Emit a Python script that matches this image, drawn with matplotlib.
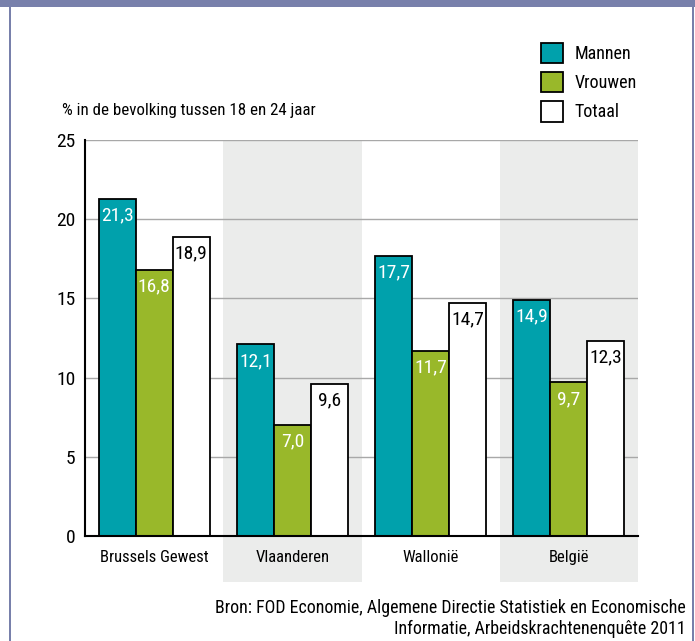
import matplotlib
matplotlib.use("Agg")
import matplotlib.pyplot as plt
from matplotlib import font_manager as fm
from matplotlib.patches import Rectangle, Patch
import numpy as np

# ---------------- data ----------------
regions = ["Brussels Gewest", "Vlaanderen", "Wallonië", "België"]
series_names = ["Mannen", "Vrouwen", "Totaal"]
mannen = [21.3, 12.1, 17.7, 14.9]
vrouwen = [16.8, 7.0, 11.7, 9.7]
totaal = [18.9, 9.6, 14.7, 12.3]
yticks = [0, 5, 10, 15, 20, 25]
ylabel = "% in de bevolking tussen 18 en 24 jaar"
source = "Bron: FOD Economie, Algemene Directie Statistiek en Economische\nInformatie, Arbeidskrachtenenquête 2011"

# ---------------- font choice ----------------
fonts = fm.fontManager.ttflist
cands = ["Roboto Condensed", "Open Sans Condensed", "Liberation Sans Narrow"]
names = {f.name for f in fonts}
chosen = None
for c in cands:
    if c in names:
        chosen = dict(family=c)
        break
if chosen is None:
    for f in fonts:
        if f.stretch in ("condensed", "semi-condensed") and f.name in ("DejaVu Sans", "Roboto", "Open Sans", "Noto Sans"):
            chosen = dict(family=f.name, stretch="condensed")
            break
if chosen is None:
    chosen = dict(family="DejaVu Sans")
plt.rcParams["font.family"] = chosen["family"]
if "stretch" in chosen:
    plt.rcParams["font.stretch"] = chosen["stretch"]

# ---------------- colours ----------------
c_teal = "#00A1AC"
c_green = "#99B82A"
c_white = "#FFFFFF"
c_band = "#EBECEB"
c_frame = "#7880AB"
c_grid = "#A8A8A8"

W, H = 695, 641
fig = plt.figure(figsize=(W / 100, H / 100), dpi=100)
ax = fig.add_axes([85 / W, 1 - 536 / H, (638 - 85) / W, (536 - 140) / H])

n = len(regions)
x = np.arange(n) + 0.5
bw = 0.268
offs = [-bw, 0, bw]
cols = [c_teal, c_green, c_white]
txtcols = ["white", "white", "black"]
data = [mannen, vrouwen, totaal]

ax.set_xlim(0, n)
ax.set_ylim(0, 25)

# alternating background bands (extend below axis)
for i in range(n):
    if i % 2 == 1:
        ax.add_patch(Rectangle((i, -2.9), 1, 27.9, facecolor=c_band,
                               edgecolor="none", zorder=0, clip_on=False))

for yv in yticks[1:]:
    ax.axhline(yv, color=c_grid, lw=1.0, zorder=1)

for k in range(3):
    bars = ax.bar(x + offs[k], data[k], width=bw, color=cols[k],
                  edgecolor="black", linewidth=1.3, zorder=3, label=series_names[k])
    for b, v in zip(bars, data[k]):
        ax.annotate(f"{v:.1f}".replace(".", ","),
                    (b.get_x() + b.get_width() / 2, v),
                    xytext=(0, -5.5), textcoords="offset points",
                    ha="center", va="top", color=txtcols[k], fontsize=14, zorder=4)

for s in ["top", "right"]:
    ax.spines[s].set_visible(False)
ax.spines["left"].set_linewidth(1.5)
ax.spines["bottom"].set_linewidth(1.5)
ax.spines["left"].set_zorder(5)
ax.spines["bottom"].set_zorder(5)
ax.set_facecolor("none")

ax.set_yticks(yticks)
ax.set_yticklabels([str(t) for t in yticks], fontsize=14)
ax.set_xticks(x)
ax.set_xticklabels(regions, fontsize=12)
ax.tick_params(axis="both", length=0)
ax.tick_params(axis="y", pad=7)
ax.tick_params(axis="x", pad=10)

handles = [Patch(facecolor=c, edgecolor="black", linewidth=1.3) for c in cols]
fig.legend(handles, series_names, loc="upper left",
           bbox_to_anchor=(541 / W, 1 - 43 / H), frameon=False,
           fontsize=13, handlelength=1.22, handleheight=1.34,
           handletextpad=0.65, labelspacing=0.5, borderpad=0, borderaxespad=0)

fig.text(62 / W, 1 - 110 / H, ylabel, ha="left", va="center", fontsize=12.2)
fig.text(686 / W, 1 - 599 / H, source, ha="right", va="top", fontsize=12.9,
         multialignment="right", linespacing=1.2)

# frame
fig.patches.append(Rectangle((0, 1 - 7 / H), 1, 7 / H, transform=fig.transFigure,
                             facecolor=c_frame, edgecolor="none"))
fig.patches.append(Rectangle((8.5 / W, 0), 2 / W, 1, transform=fig.transFigure,
                             facecolor=c_frame, edgecolor="none"))
fig.patches.append(Rectangle((691.5 / W, 0), 2.5 / W, 1, transform=fig.transFigure,
                             facecolor=c_frame, edgecolor="none"))

fig.savefig("out.png", dpi=100)
